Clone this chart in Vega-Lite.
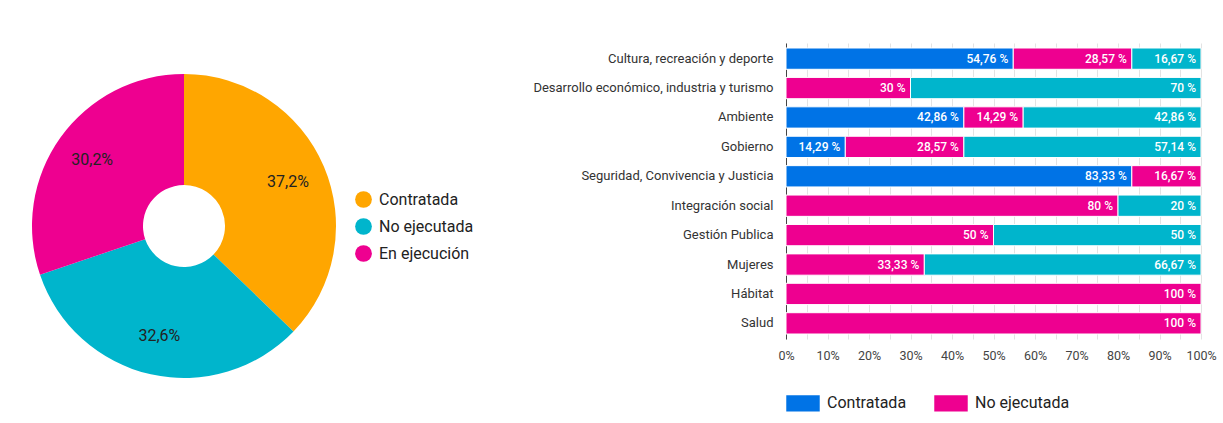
{
  "$schema": "https://vega.github.io/schema/vega-lite/v6.json",
  "padding": {"left": 32, "top": 43, "right": 0, "bottom": 0},
  "background": "white",
  "config": {
    "font": "Roboto",
    "view": {"stroke": null},
    "locale": {"number": {"decimal": ",", "thousands": ".", "grouping": [3], "currency": ["", " €"]}}
  },
  "spacing": 58,
  "resolve": {"scale": {"color": "independent"}, "legend": {"color": "independent"}},
  "hconcat": [
    {
      "width": 304,
      "height": 366,
      "data": {"values": [
        {"estado": "Contratada", "porcentaje": 37.2},
        {"estado": "No ejecutada", "porcentaje": 32.6},
        {"estado": "En ejecución", "porcentaje": 30.2}
      ]},
      "transform": [
        {"calculate": "indexof(['Contratada','No ejecutada','En ejecución'], datum.estado)", "as": "orden"},
        {"calculate": "format(datum.porcentaje, '.1f') + '%'", "as": "etiqueta"}
      ],
      "encoding": {
        "theta": {"field": "porcentaje", "type": "quantitative", "stack": true},
        "order": {"field": "orden", "type": "quantitative"}
      },
      "layer": [
        {
          "mark": {"type": "arc", "outerRadius": 152, "innerRadius": 41},
          "encoding": {
            "color": {
              "field": "estado", "type": "nominal",
              "scale": {"domain": ["Contratada", "No ejecutada", "En ejecución"], "range": ["#FFA600", "#00B5CC", "#EE0090"]},
              "legend": {
                "title": null, "orient": "none", "legendX": 323, "legendY": 148,
                "symbolType": "circle", "symbolSize": 280, "symbolStrokeWidth": 0,
                "labelFontSize": 16, "labelColor": "#222", "labelOffset": 7, "rowPadding": 10
              }
            }
          }
        },
        {
          "mark": {"type": "text", "radius": 113, "fontSize": 16, "baseline": "middle", "align": "center"},
          "encoding": {
            "text": {"field": "etiqueta", "type": "nominal"},
            "detail": {"field": "estado", "type": "nominal"},
            "color": {"value": "#222222"}
          }
        }
      ]
    },
    {
      "width": 415,
      "height": 296,
      "data": {"values": [
        {"sector": "Cultura, recreación y deporte", "estado": "Contratada", "valor": 54.76},
        {"sector": "Cultura, recreación y deporte", "estado": "No ejecutada", "valor": 28.57},
        {"sector": "Cultura, recreación y deporte", "estado": "En ejecución", "valor": 16.67},
        {"sector": "Desarrollo económico, industria y turismo", "estado": "No ejecutada", "valor": 30},
        {"sector": "Desarrollo económico, industria y turismo", "estado": "En ejecución", "valor": 70},
        {"sector": "Ambiente", "estado": "Contratada", "valor": 42.86},
        {"sector": "Ambiente", "estado": "No ejecutada", "valor": 14.29},
        {"sector": "Ambiente", "estado": "En ejecución", "valor": 42.86},
        {"sector": "Gobierno", "estado": "Contratada", "valor": 14.29},
        {"sector": "Gobierno", "estado": "No ejecutada", "valor": 28.57},
        {"sector": "Gobierno", "estado": "En ejecución", "valor": 57.14},
        {"sector": "Seguridad, Convivencia y Justicia", "estado": "Contratada", "valor": 83.33},
        {"sector": "Seguridad, Convivencia y Justicia", "estado": "No ejecutada", "valor": 16.67},
        {"sector": "Integración social", "estado": "No ejecutada", "valor": 80},
        {"sector": "Integración social", "estado": "En ejecución", "valor": 20},
        {"sector": "Gestión Publica", "estado": "No ejecutada", "valor": 50},
        {"sector": "Gestión Publica", "estado": "En ejecución", "valor": 50},
        {"sector": "Mujeres", "estado": "No ejecutada", "valor": 33.33},
        {"sector": "Mujeres", "estado": "En ejecución", "valor": 66.67},
        {"sector": "Hábitat", "estado": "No ejecutada", "valor": 100},
        {"sector": "Salud", "estado": "No ejecutada", "valor": 100}
      ]},
      "transform": [
        {"calculate": "indexof(['Contratada','No ejecutada','En ejecución'], datum.estado)", "as": "orden"},
        {"calculate": "format(datum.valor, '.2~f') + ' %'", "as": "etiqueta"}
      ],
      "encoding": {
        "y": {
          "field": "sector", "type": "nominal",
          "sort": ["Cultura, recreación y deporte", "Desarrollo económico, industria y turismo", "Ambiente", "Gobierno", "Seguridad, Convivencia y Justicia", "Integración social", "Gestión Publica", "Mujeres", "Hábitat", "Salud"],
          "scale": {"paddingInner": 0.276, "paddingOuter": 0.17},
          "axis": {"title": null, "ticks": false, "labelFontSize": 13, "labelColor": "#333", "labelPadding": 13, "labelLimit": 400, "domainColor": "#444", "labelFont": "Roboto"}
        },
        "x": {
          "field": "valor", "type": "quantitative", "stack": "zero",
          "scale": {"domain": [0, 100], "nice": false},
          "axis": {
            "title": null,
            "values": [0, 5, 10, 15, 20, 25, 30, 35, 40, 45, 50, 55, 60, 65, 70, 75, 80, 85, 90, 95, 100],
            "labelExpr": "datum.value % 10 == 0 ? datum.value + '%' : ''",
            "labelOverlap": false, "labelBound": false, "labelFlush": false,
            "ticks": false, "domain": false, "gridColor": "#e3e3e3",
            "labelFontSize": 12.5, "labelColor": "#444", "labelPadding": 10, "labelFont": "Roboto"
          }
        },
        "order": {"field": "orden", "type": "quantitative"}
      },
      "layer": [
        {
          "mark": {"type": "bar", "stroke": "#ffffff", "strokeWidth": 1},
          "encoding": {
            "color": {
              "field": "estado", "type": "nominal",
              "scale": {"domain": ["Contratada", "No ejecutada", "En ejecución"], "range": ["#0073E6", "#EE0090", "#00B5CC"]},
              "legend": {
                "title": null, "orient": "none", "direction": "horizontal", "legendX": 0, "legendY": 343,
                "values": ["Contratada", "No ejecutada"],
                "symbolType": "M-1,-0.49H1V0.49H-1Z", "symbolSize": 1120, "symbolStrokeWidth": 0,
                "labelFontSize": 16, "labelColor": "#222", "labelOffset": 7, "columnPadding": 27
              }
            }
          }
        },
        {
          "mark": {"type": "text", "align": "right", "baseline": "middle", "dx": -5, "fontSize": 12, "fontWeight": 500, "color": "#ffffff"},
          "encoding": {
            "text": {"field": "etiqueta", "type": "nominal"},
            "detail": {"field": "estado", "type": "nominal"}
          }
        }
      ]
    }
  ]
}
